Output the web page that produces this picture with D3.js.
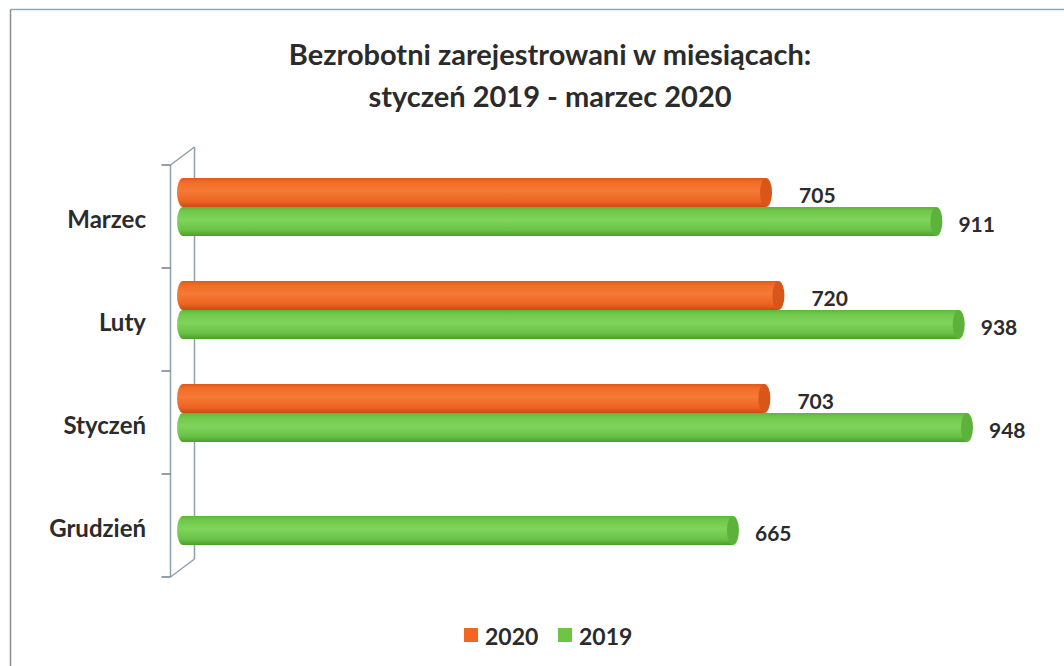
<!DOCTYPE html>
<html>
<head>
<meta charset="utf-8">
<script src="https://cdn.jsdelivr.net/npm/d3@7"></script>
<style>
  body { margin: 0; background: #fff; }
  text { font-family: Lato, "Open Sans", sans-serif; font-weight: bold; fill: #2b2b2b; }
</style>
</head>
<body>
<div id="chart"></div>
<script>
// chart data
var months = ["Marzec", "Luty", "Styczeń", "Grudzień"];
var values2020 = [705, 720, 703, null];
var values2019 = [911, 938, 948, 665];
var seriesNames = ["2020", "2019"];
var titleLines = ["Bezrobotni zarejestrowani w miesiącach:", "styczeń 2019 - marzec 2020"];

var svgWidth = 1064;
var svgHeight = 666;

var svg = d3.select("#chart")
  .append("svg")
  .attr("width", svgWidth)
  .attr("height", svgHeight);

// gradients for the cylinders
var defs = svg.append("defs");
function cylGradient(id, stops) {
  var g = defs.append("linearGradient")
    .attr("id", id)
    .attr("x1", 0).attr("y1", 0).attr("x2", 0).attr("y2", 1);
  stops.forEach(function(s) {
    g.append("stop").attr("offset", s[0]).attr("stop-color", s[1]);
  });
}
cylGradient("gOrange", [[0, "#e0581c"], [0.15, "#f26d27"], [0.45, "#f47a35"], [0.8, "#ec6420"], [1, "#c94c15"]]);
cylGradient("gGreen", [[0, "#5cb73a"], [0.15, "#70c94b"], [0.45, "#80d45c"], [0.8, "#68c244"], [1, "#4c9d2e"]]);

// outer frame (only top and left visible)
svg.append("line").attr("x1", 10.5).attr("y1", 9.5).attr("x2", svgWidth).attr("y2", 9.5)
  .attr("stroke", "#8fa6b8").attr("stroke-width", 1.5);
svg.append("line").attr("x1", 10.5).attr("y1", 9.5).attr("x2", 10.5).attr("y2", svgHeight)
  .attr("stroke", "#8a8a8a").attr("stroke-width", 1.5);

// title
svg.selectAll(".title")
  .data(titleLines)
  .enter()
  .append("text")
  .attr("class", "title")
  .attr("x", 550)
  .attr("y", (d, i) => 65 + i * 42)
  .attr("text-anchor", "middle")
  .style("font-size", "29px")
  .text(d => d);

// scales
var xScale = d3.scaleLinear().domain([0, 1000]).range([183, 1010]);
var yScale = d3.scaleBand().domain(months).range([165, 577]);
var depthX = 24, depthY = -18;
var frontX = 170.5;

// axis: front line, back line, connectors, ticks
var axisColor = "#8fa0a8";
var axisG = svg.append("g");
var yTop = yScale.range()[0], yBot = yScale.range()[1];
axisG.append("line").attr("x1", frontX).attr("y1", yTop).attr("x2", frontX).attr("y2", yBot)
  .attr("stroke", axisColor).attr("stroke-width", 1.5);
axisG.append("line").attr("x1", frontX + depthX).attr("y1", yTop + depthY).attr("x2", frontX + depthX).attr("y2", yBot + depthY)
  .attr("stroke", axisColor).attr("stroke-width", 1.5);
axisG.append("line").attr("x1", frontX).attr("y1", yTop).attr("x2", frontX + depthX).attr("y2", yTop + depthY)
  .attr("stroke", axisColor).attr("stroke-width", 1.5);
axisG.append("line").attr("x1", frontX).attr("y1", yBot).attr("x2", frontX + depthX).attr("y2", yBot + depthY)
  .attr("stroke", axisColor).attr("stroke-width", 1.5);
var tickYs = months.map(m => yScale(m)).concat([yBot]);
axisG.selectAll(".tick")
  .data(tickYs)
  .enter()
  .append("line")
  .attr("x1", frontX - 9).attr("x2", frontX)
  .attr("y1", d => d).attr("y2", d => d)
  .attr("stroke", "#6f7f93").attr("stroke-width", 1.5);

// category labels
svg.selectAll(".cat")
  .data(months)
  .enter()
  .append("text")
  .attr("class", "cat")
  .attr("x", 146)
  .attr("y", d => yScale(d) + yScale.bandwidth() / 2 + 2)
  .attr("text-anchor", "end")
  .attr("dominant-baseline", "central")
  .style("font-size", "24px")
  .text(d => d);

// bars drawn as cylinders
var barH = 29;
var capRx = 6;
function drawCylinders(values, offset, grad, capFill, labelGap) {
  var rows = months.map((m, i) => ({ month: m, value: values[i] })).filter(d => d.value != null);
  var g = svg.append("g");
  var bars = g.selectAll("g").data(rows).enter().append("g");
  bars.append("path")
    .attr("d", function(d) {
      var x0 = xScale(0), x1 = xScale(d.value);
      var y0 = yScale(d.month) + offset, y1 = y0 + barH;
      var ry = barH / 2;
      return "M" + x1 + "," + y0 + " L" + x0 + "," + y0 +
        " A" + capRx + "," + ry + " 0 0 0 " + x0 + "," + y1 +
        " L" + x1 + "," + y1 + " Z";
    })
    .attr("fill", "url(#" + grad + ")");
  bars.append("ellipse")
    .attr("cx", d => xScale(d.value))
    .attr("cy", d => yScale(d.month) + offset + barH / 2)
    .attr("rx", capRx)
    .attr("ry", barH / 2)
    .attr("fill", capFill);
  g.selectAll("text")
    .data(rows)
    .enter()
    .append("text")
    .attr("x", d => xScale(d.value) + labelGap)
    .attr("y", d => yScale(d.month) + offset + barH / 2 + 2)
    .attr("dominant-baseline", "central")
    .style("font-size", "21px")
    .text(d => d.value);
}
drawCylinders(values2019, 42, "gGreen", "#5db23b", 22);
drawCylinders(values2020, 13, "gOrange", "#d8561a", 33);

// legend
var legendColors = ["#f26522", "#6cc644"];
var legendX = [464, 558];
var legend = svg.selectAll(".legend")
  .data(seriesNames)
  .enter()
  .append("g")
  .attr("transform", (d, i) => `translate(${legendX[i]}, 628)`);
legend.append("rect")
  .attr("width", 14).attr("height", 14)
  .attr("fill", (d, i) => legendColors[i]);
legend.append("text")
  .attr("x", 21)
  .attr("y", 8)
  .attr("dominant-baseline", "central")
  .style("font-size", "23px")
  .text(d => d);
</script>
</body>
</html>
